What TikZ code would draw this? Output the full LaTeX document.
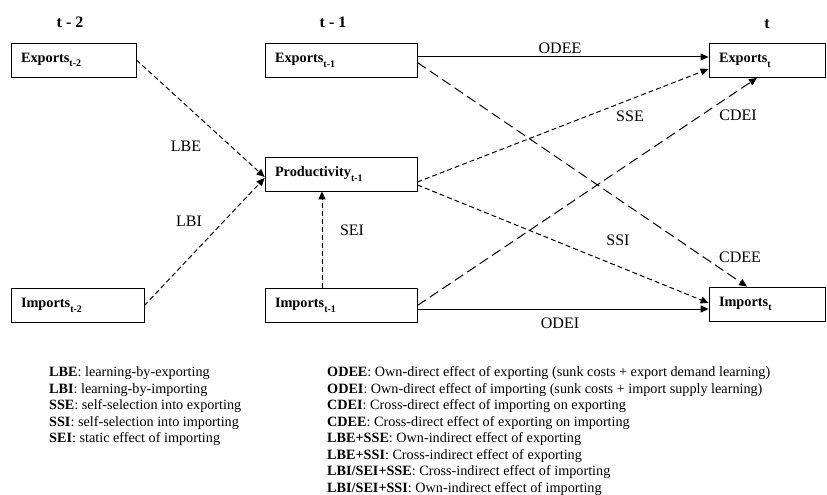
\documentclass[tikz,border=0pt]{standalone}
\usepackage{fontspec}
\setmainfont{Liberation Serif}
\usetikzlibrary{arrows.meta, positioning}
\newcommand{\lagsub}[1]{\raisebox{-4.5pt}{\fontsize{10}{10}\selectfont\bfseries #1}}

\begin{document}
\begin{tikzpicture}[
    x=1pt, y=-1pt,
    var/.style={draw, line width=0.8pt, minimum height=34pt, inner xsep=10pt, align=left, font=\fontsize{14.3}{16}\selectfont\bfseries},
    period/.style={font=\fontsize{16}{19}\selectfont\bfseries},
    effect/.style={font=\fontsize{16}{19}\selectfont},
    solidarrow/.style={-{Triangle[length=8pt,width=7pt]}, line width=1pt},
    shortdash/.style={solidarrow, dash pattern=on 5pt off 3pt},
    longdash/.style={solidarrow, dash pattern=on 10pt off 5pt},
    legend/.style={anchor=north west, inner sep=0pt, align=left, font=\fontsize{14.2}{16.5}\selectfont}
]
    \useasboundingbox (0,0) rectangle (827,495);

    % Periods
    \node[period] (t2) at (70,22) {t - 2};
    \node[period] (t1) at (333,22) {t - 1};
    \node[period] (t0) at (767,24) {t};

    % Variables at t-2
    \node[var, text width=105pt] (ex2) at (73.5,60) {Exports\lagsub{t-2}};
    \node[var, text width=113pt] (im2) at (77.5,305.5) {Imports\lagsub{t-2}};

    % Variables at t-1
    \node[var, text width=132pt] (ex1) at (341,60.5) {Exports\lagsub{t-1}};
    \node[var, text width=132pt] (prod) at (341,174) {Productivity\lagsub{t-1}};
    \node[var, text width=132pt] (im1) at (341,305.5) {Imports\lagsub{t-1}};

    % Variables at t
    \node[var, text width=96pt] (ext) at (767,60.5) {Exports\lagsub{t}};
    \node[var, text width=96pt] (imt) at (767,304) {Imports\lagsub{t}};

    % Learning and static effects
    \draw[shortdash] (ex2.east) -- ([yshift=-3pt]prod.west);
    \draw[shortdash] (im2.east) -- ([yshift=-4pt]prod.west);
    \draw[shortdash] ([xshift=-19pt]im1.north) -- ([xshift=-19pt]prod.south);

    % Self-selection
    \draw[shortdash] ([yshift=-8pt]prod.east) -- ([yshift=-8.5pt]ext.west);
    \draw[shortdash] ([yshift=-11pt]prod.east) -- ([yshift=1pt]imt.west);

    % Direct effects
    \draw[solidarrow] ([yshift=3.5pt]ex1.east) -- ([yshift=3.5pt]ext.west);
    \draw[solidarrow] ([yshift=-3.5pt]im1.east) -- ([yshift=-5pt]imt.west);
    \draw[longdash] ([yshift=-2pt]ex1.east) -- ([xshift=-20pt]imt.north);
    \draw[longdash] (im1.east) -- ([xshift=-10pt]ext.south);

    % Labels
    \node[effect] (lbe) at (186,146) {LBE};
    \node[effect] (lbi) at (189,221) {LBI};
    \node[effect] (sei) at (352,230) {SEI};
    \node[effect] (odee) at (560,48) {ODEE};
    \node[effect] (sse) at (630,116) {SSE};
    \node[effect] (cdei) at (738,115) {CDEI};
    \node[effect] (ssi) at (618,240) {SSI};
    \node[effect] (cdee) at (740,257) {CDEE};
    \node[effect] (odei) at (560,323) {ODEI};

    % Legend
    \node[legend] (legleft) at (49,366.5) {\textbf{LBE}: learning-by-exporting\\
        \textbf{LBI}: learning-by-importing\\
        \textbf{SSE}: self-selection into exporting\\
        \textbf{SSI}: self-selection into importing\\
        \textbf{SEI}: static effect of importing};
    \node[legend] (legright) at (327,366.5) {\textbf{ODEE}: Own-direct effect of exporting (sunk costs + export demand learning)\\
        \textbf{ODEI}: Own-direct effect of importing (sunk costs + import supply learning)\\
        \textbf{CDEI}: Cross-direct effect of importing on exporting\\
        \textbf{CDEE}: Cross-direct effect of exporting on importing\\
        \textbf{LBE+SSE}: Own-indirect effect of exporting\\
        \textbf{LBE+SSI}: Cross-indirect effect of exporting\\
        \textbf{LBI/SEI+SSE}: Cross-indirect effect of importing\\
        \textbf{LBI/SEI+SSI}: Own-indirect effect of importing};
\end{tikzpicture}
\end{document}
